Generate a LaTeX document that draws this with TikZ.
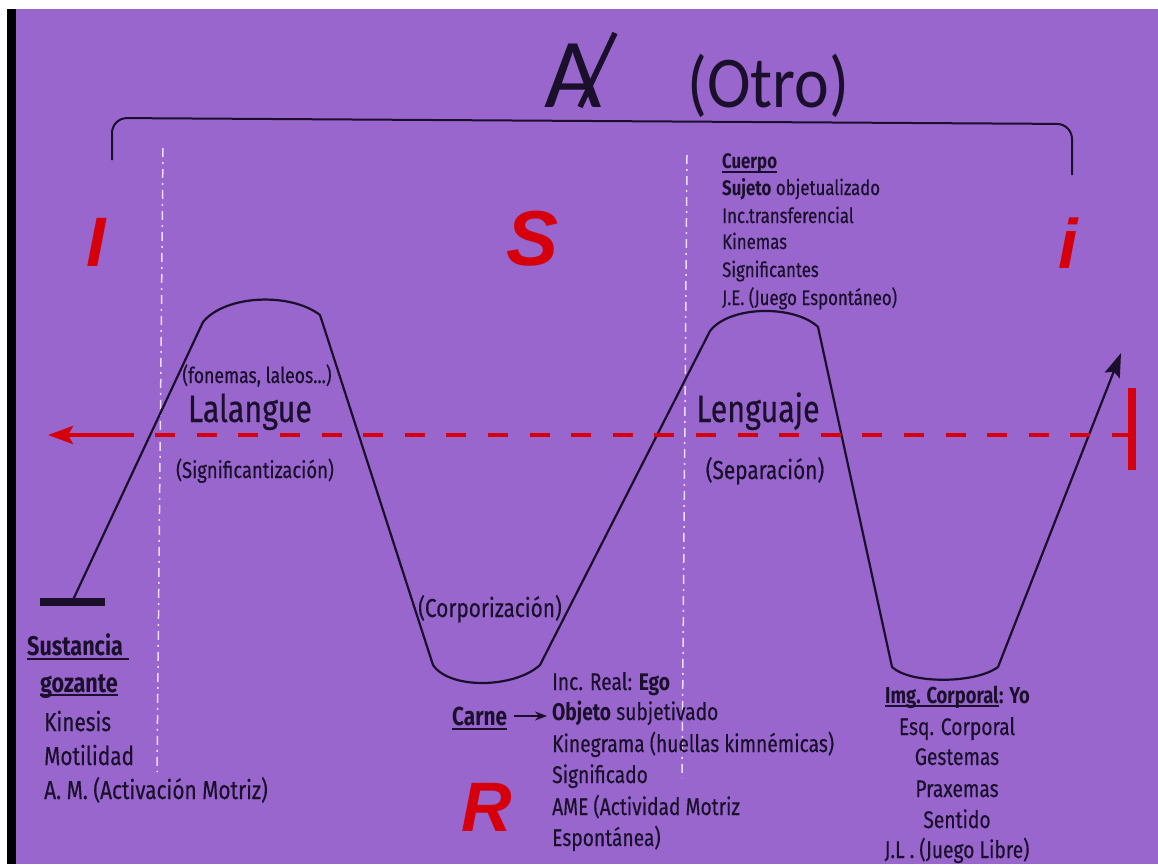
\documentclass[tikz,border=0pt]{standalone}
\usepackage{fontspec}
\setmainfont{Fira Sans}[FakeStretch=0.8, UprightFeatures={FakeBold=0.4}]
\newfontfamily\titlefont{Carlito}
\newfontfamily\otrofont{Carlito}[FakeStretch=0.9]
\newfontfamily\letterfont{Liberation Sans}
\usetikzlibrary{arrows.meta, positioning}

\definecolor{bgpurple}{RGB}{152,102,204}
\definecolor{inkred}{RGB}{214,0,12}
\definecolor{ink}{RGB}{26,16,44}
\definecolor{dotwhite}{RGB}{236,220,246}

\begin{document}
\begin{tikzpicture}[x=1pt, y=-1pt,
    txt/.style={inner sep=0pt, text=ink, anchor=base west, font=\fontsize{24}{24}\selectfont},
    small txt/.style={txt, font=\fontsize{21}{21}\selectfont},
    big letter/.style={inner sep=0pt, text=inkred, font=\letterfont\bfseries\itshape\fontsize{70}{70}\selectfont},
    wave/.style={draw=ink, line width=2.2pt, line join=round},
    red line/.style={draw=inkred, line width=4pt},
    guide/.style={draw=dotwhite, line width=1.5pt, dash pattern=on 9pt off 5pt on 2pt off 5pt},
    ul/.style={draw=ink, line width=2pt}]

    \useasboundingbox (0,0) rectangle (1158,864);
    \fill[white] (0,0) rectangle (1158,864);
    \fill[black] (7,9) rectangle (16,864);
    \fill[bgpurple] (16,9) rectangle (1158,864);

    % title and brace
    \node[inner sep=0pt, text=ink, anchor=base, font=\titlefont\fontsize{99}{99}\selectfont] (bigA) at (573,107) {A};
    \coordinate (slash top) at (615,33);
    \coordinate (slash foot) at (580,107);
    \draw[ink, line width=5.5pt] (slash top) -- (slash foot);
    \node[inner sep=0pt, text=ink, anchor=base west, font=\otrofont\fontsize{73}{73}\selectfont] (otro) at (687,107) {(Otro)};

    \draw[wave, line width=2pt, rounded corners=15pt] (112,160) -- (112,118) -- (1072,124) -- (1072,175);

    \draw[guide] (163,148) -- (157,772);
    \draw[guide] (687,155) -- (682,778);

    \node[big letter] (letterI) at (96,242) {I};
    \node[big letter, font=\letterfont\bfseries\itshape\fontsize{78}{78}\selectfont] (letterS) at (533,239) {S};
    \node[big letter] (letteri) at (1068,243) {i};
    \node[big letter] (letterR) at (487,807) {R};

    % the wave
    \coordinate (bar l) at (40,602);
    \coordinate (bar r) at (105,602);
    \coordinate (start) at (72,602);
    \coordinate (h1 left) at (203,322);
    \coordinate (h1 right) at (320,315);
    \coordinate (t1 left) at (433,665);
    \coordinate (t1 right) at (540,665);
    \coordinate (h2 left) at (710,331);
    \coordinate (h2 right) at (818,327);
    \coordinate (t2 left) at (892,667);
    \coordinate (t2 right) at (998,667);
    \coordinate (end) at (1121,353);

    \draw[ink, line width=8pt] (bar l) -- (bar r);
    \draw[wave, -{Stealth[length=24pt, width=16pt, inset=4pt]}] (start) -- (h1 left)
        .. controls (225,295) and (290,292) .. (h1 right) -- (t1 left)
        .. controls (450,690) and (515,688) .. (t1 right) -- (h2 left)
        .. controls (730,305) and (795,305) .. (h2 right) -- (t2 left)
        .. controls (910,684) and (975,684) .. (t2 right) -- (end);

    % red axis
    \coordinate (bar top) at (1132,388);
    \coordinate (bar bottom) at (1132,470);
    \coordinate (bar mid) at (1132,435);
    \coordinate (shaft) at (130,435);
    \coordinate (red tip) at (48,435);
    \draw[red line, dash pattern=on 20pt off 21.6pt] (bar mid) -- (shaft);
    \draw[red line, -{Stealth[length=25pt, width=18pt, inset=5pt]}] (shaft) -- (red tip);
    \draw[red line, line width=8pt] (bar top) -- (bar bottom);

    % labels on the wave
    \node[txt, anchor=base, font=\fontsize{22}{22}\selectfont] (fonemas) at (257,383) {(fonemas, laleos...)};
    \node[txt, anchor=base, font=\fontsize{38}{38}\selectfont] (lalangue) at (250,422) {Lalangue};
    \node[txt, anchor=base, font=\fontsize{23}{23}\selectfont] (signif) at (255,478) {(Significantización)};
    \node[txt, anchor=base, font=\fontsize{26}{26}\selectfont] (corpor) at (490,617) {(Corporización)};
    \node[txt, anchor=base, font=\fontsize{38}{38}\selectfont] (lenguaje) at (758,422) {Lenguaje};
    \node[txt, anchor=base, font=\fontsize{26}{26}\selectfont] (separ) at (765,479) {(Separación)};

    % Cuerpo
    \node[small txt] (cuerpo) at (722,168) {\bfseries Cuerpo};
    \node[small txt] (sujeto) at (722,195) {\textbf{Sujeto} objetualizado};
    \node[small txt] (transf) at (722,223) {Inc.transferencial};
    \node[small txt] (kinemas) at (722,249) {Kinemas};
    \node[small txt] (signifte) at (722,277) {Significantes};
    \node[small txt] (je) at (722,305) {J.E. (Juego Espontáneo)};
    \draw[ul] ([yshift=-4pt]cuerpo.base west) -- ([yshift=-4pt]cuerpo.base east);

    % Sustancia gozante
    \node[txt, font=\bfseries\fontsize{27}{27}\selectfont] (sustancia) at (27,655) {Sustancia};
    \node[txt, font=\bfseries\fontsize{27}{27}\selectfont] (gozante) at (40,692) {gozante};
    \node[txt, font=\fontsize{26}{26}\selectfont] (kinesis) at (44,731) {Kinesis};
    \node[txt, font=\fontsize{26}{26}\selectfont] (motil) at (44,765) {Motilidad};
    \node[txt, font=\fontsize{26}{26}\selectfont] (am) at (44,799) {A. M. (Activación Motriz)};
    \draw[ul] ([yshift=-4pt]sustancia.base west) -- ([yshift=-4pt,xshift=6pt]sustancia.base east);
    \draw[ul] ([yshift=-3pt]gozante.base west) -- ([yshift=-3pt]gozante.base east);

    % Carne
    \node[txt, font=\bfseries\fontsize{26}{26}\selectfont] (carne) at (452,725) {Carne};
    \node[txt] (increal) at (552,690) {Inc. Real: \textbf{Ego}};
    \node[txt] (objeto) at (552,720) {\textbf{Objeto} subjetivado};
    \node[txt] (kinegrama) at (552,752) {Kinegrama (huellas kimnémicas)};
    \node[txt] (signdo) at (552,783) {Significado};
    \node[txt] (ame) at (552,815) {AME (Actividad Motriz};
    \node[txt] (espont) at (552,846) {Espontánea)};
    \draw[ul] ([yshift=-4pt]carne.base west) -- ([yshift=-4pt]carne.base east);
    \draw[ink, line width=1.6pt, -{Stealth[length=12pt, width=9pt]}] ([xshift=7pt]carne.east) -- ([xshift=-5pt]carne.east -| objeto.west);

    % Img. Corporal
    \node[txt, font=\bfseries\fontsize{23}{23}\selectfont] (imgc) at (885,703) {Img. Corporal};
    \node[txt, font=\bfseries\fontsize{23}{23}\selectfont] (yo) at (imgc.base east) {: Yo};
    \draw[ul] ([yshift=-3pt]imgc.base west) -- ([yshift=-3pt]imgc.base east);
    \node[txt, anchor=base] (esq) at (957,735) {Esq. Corporal};
    \node[txt, anchor=base] (gestemas) at (957,765) {Gestemas};
    \node[txt, anchor=base] (praxemas) at (957,797) {Praxemas};
    \node[txt, anchor=base] (sentido) at (957,828) {Sentido};
    \node[txt, anchor=base] (jl) at (957,858) {J.L . (Juego Libre)};
\end{tikzpicture}
\end{document}
